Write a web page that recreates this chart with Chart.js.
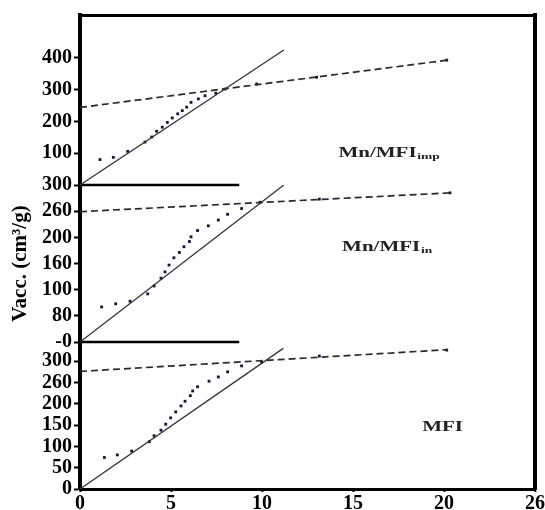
<!DOCTYPE html>
<html>
<head>
<meta charset="utf-8">
<script src="https://cdn.jsdelivr.net/npm/chart.js@4"></script>
<style>
  html, body { margin: 0; padding: 0; background: #fff; }
  #wrap { width: 545px; height: 510px; }
</style>
</head>
<body>
<div id="wrap"><canvas id="chart"></canvas></div>
<script>
// x axis (shared)
const xTicks = [0, 5, 10, 15, 20, 25];
const xTickLabels = ['0', '5', '10', '15', '20', '26'];

// y axis ticks per panel (bottom, middle, top)
const mfiTicks = [0, 50, 100, 150, 200, 250, 300];
const mfiTickLabels = ['0', '50', '100', '150', '200', '260', '300'];
const inTicks = [0, 50, 100, 150, 200, 250, 300];
const inTickLabels = ['-0', '80', '100', '160', '200', '260', '300'];
const impTicks = [100, 200, 300, 400];
const impTickLabels = ['100', '200', '300', '400'];

// MFI (bottom panel)
const mfiX = [1.34, 2.05, 2.84, 3.81, 4.07, 4.45, 4.71, 4.98, 5.26, 5.55, 5.77, 6.06, 6.19, 6.46, 7.09, 7.60, 8.11, 8.88, 9.98, 13.15, 20.15];
const mfiY = [74, 80, 89, 111, 125, 138, 152, 167, 181, 195, 206, 219, 230, 240, 253, 263, 275, 289, 298, 312, 326];
const mfiSolidX = [0, 11.17];
const mfiSolidY = [0, 330];
const mfiDashX = [0, 20.2];
const mfiDashY = [276, 327];

// Mn/MFI_in (middle panel)
const inX = [1.19, 1.96, 2.75, 3.72, 4.07, 4.45, 4.67, 4.89, 5.16, 5.46, 5.71, 6.01, 6.10, 6.46, 7.05, 7.60, 8.11, 8.88, 9.89, 13.15, 20.33];
const inY = [67, 73, 78, 92, 107, 122, 134, 147, 161, 171, 182, 192, 201, 213, 222, 233, 244, 255, 267, 273, 285];
const inSolidX = [0, 11.2];
const inSolidY = [0, 300];
const inDashX = [0, 20.33];
const inDashY = [249, 285];

// Mn/MFI_imp (top panel)
const impX = [1.10, 1.83, 2.62, 3.57, 3.94, 4.21, 4.52, 4.80, 5.07, 5.37, 5.62, 5.86, 6.10, 6.50, 6.87, 7.46, 7.97, 9.71, 13.0, 20.15];
const impY = [80, 87, 106, 135, 151, 169, 182, 197, 211, 224, 234, 245, 260, 271, 281, 289, 302, 318, 339, 393];
const impSolidX = [0, 11.2];
const impSolidY = [0, 425];
const impDashX = [0, 20.2];
const impDashY = [244, 393];

// thick separators between panels (on middle axis)
const sepX = [0, 8.75];
const sepTopY = [300, 300];
const sepBotY = [0, 0];

// panel captions
const capText = ['Mn/MFI', 'Mn/MFI', 'MFI'];
const capSub = ['imp', 'in', ''];
const capX = [14.2, 14.4, 18.8];
const capY = [88, 174, 136];
const capAxis = ['y3', 'y2', 'y'];

const SERIF = '"Liberation Serif", "Times New Roman", serif';
const pts = (xs, ys) => xs.map((x, i) => ({ x: x, y: ys[i] }));

const solid = (xs, ys, axis) => ({
  data: pts(xs, ys), yAxisID: axis, showLine: true, pointRadius: 0,
  borderColor: '#333', borderWidth: 1.3
});
const dashed = (xs, ys, axis) => ({
  data: pts(xs, ys), yAxisID: axis, showLine: true, pointRadius: 0,
  borderColor: '#2a2a2a', borderWidth: 1.7, borderDash: [7, 4]
});
const dots = (xs, ys, axis) => ({
  data: pts(xs, ys), yAxisID: axis, showLine: false,
  pointStyle: 'rect', pointRadius: 2, pointBorderWidth: 0,
  pointBackgroundColor: '#15163a', borderColor: '#15163a'
});
const sep = (ys) => ({
  data: pts(sepX, ys), yAxisID: 'y2', showLine: true, pointRadius: 0,
  borderColor: '#000', borderWidth: 2.6, clip: false
});

const leftAxis = (min, max, weight, ticks, labels, extra) => Object.assign({
  type: 'linear', position: 'left', stack: 'v', stackWeight: weight,
  min: min, max: max,
  afterFit: s => { s.width = 80; },
  afterBuildTicks: s => { s.ticks = ticks.map(v => ({ value: v })); },
  border: { display: true, color: '#000', width: 4 },
  grid: { drawOnChartArea: false, tickLength: 6, tickWidth: 2, color: '#000' },
  ticks: {
    padding: 2, color: '#000', autoSkip: false,
    font: { family: SERIF, size: 20, weight: 'bold' },
    callback: v => labels[ticks.indexOf(v)]
  }
}, extra || {});

const captions = {
  id: 'captions',
  afterDatasetsDraw(chart) {
    const ctx = chart.ctx;
    ctx.save();
    ctx.fillStyle = '#222';
    ctx.textBaseline = 'alphabetic';
    capText.forEach((t, i) => {
      const px = chart.scales.x.getPixelForValue(capX[i]);
      const py = chart.scales[capAxis[i]].getPixelForValue(capY[i]);
      ctx.save();
      ctx.translate(px, py);
      ctx.scale(1.5, 1);
      ctx.font = 'bold 14px ' + SERIF;
      ctx.fillText(t, 0, 0);
      if (capSub[i]) {
        const w = ctx.measureText(t).width;
        ctx.font = 'bold 9px ' + SERIF;
        ctx.fillText(capSub[i], w + 0.5, 2);
      }
      ctx.restore();
    });
    ctx.restore();
  }
};

new Chart(document.getElementById('chart'), {
  type: 'scatter',
  data: {
    datasets: [
      solid(mfiSolidX, mfiSolidY, 'y'), dashed(mfiDashX, mfiDashY, 'y'), dots(mfiX, mfiY, 'y'),
      solid(inSolidX, inSolidY, 'y2'), dashed(inDashX, inDashY, 'y2'), dots(inX, inY, 'y2'),
      solid(impSolidX, impSolidY, 'y3'), dashed(impDashX, impDashY, 'y3'), dots(impX, impY, 'y3'),
      sep(sepTopY), sep(sepBotY)
    ]
  },
  options: {
    responsive: true,
    maintainAspectRatio: false,
    animation: false,
    layout: { padding: { left: 0, right: 10, top: 15, bottom: 0 } },
    plugins: { legend: { display: false }, tooltip: { enabled: false } },
    scales: {
      x: {
        type: 'linear', position: 'bottom', min: 0, max: 25,
        afterFit: s => { s.height = 21; },
        afterBuildTicks: s => { s.ticks = xTicks.map(v => ({ value: v })); },
        border: { display: true, color: '#000', width: 3 },
        grid: { drawOnChartArea: false, tickLength: 3, tickWidth: 2, color: '#000' },
        ticks: {
          padding: 0, color: '#000', autoSkip: false, maxRotation: 0,
          font: { family: SERIF, size: 20, weight: 'bold' },
          callback: v => xTickLabels[xTicks.indexOf(v)]
        }
      },
      xTop: {
        type: 'linear', position: 'top', min: 0, max: 25,
        border: { display: true, color: '#000', width: 3 },
        grid: { display: false, drawTicks: false },
        ticks: { display: false }
      },
      yRight: {
        type: 'linear', position: 'right', min: 0, max: 1,
        border: { display: true, color: '#000', width: 4 },
        grid: { display: false, drawTicks: false },
        ticks: { display: false }
      },
      y: leftAxis(0, 345, 147, mfiTicks, mfiTickLabels),
      y2: leftAxis(0, 300, 157, inTicks, inTickLabels, {
        title: {
          display: true, text: 'Vacc. (cm³/g)', color: '#000',
          font: { family: SERIF, size: 21, weight: 'bold' },
          padding: { top: 8, bottom: 0 }
        }
      }),
      y3: leftAxis(0, 535, 170, impTicks, impTickLabels)
    }
  },
  plugins: [captions]
});
</script>
</body>
</html>
